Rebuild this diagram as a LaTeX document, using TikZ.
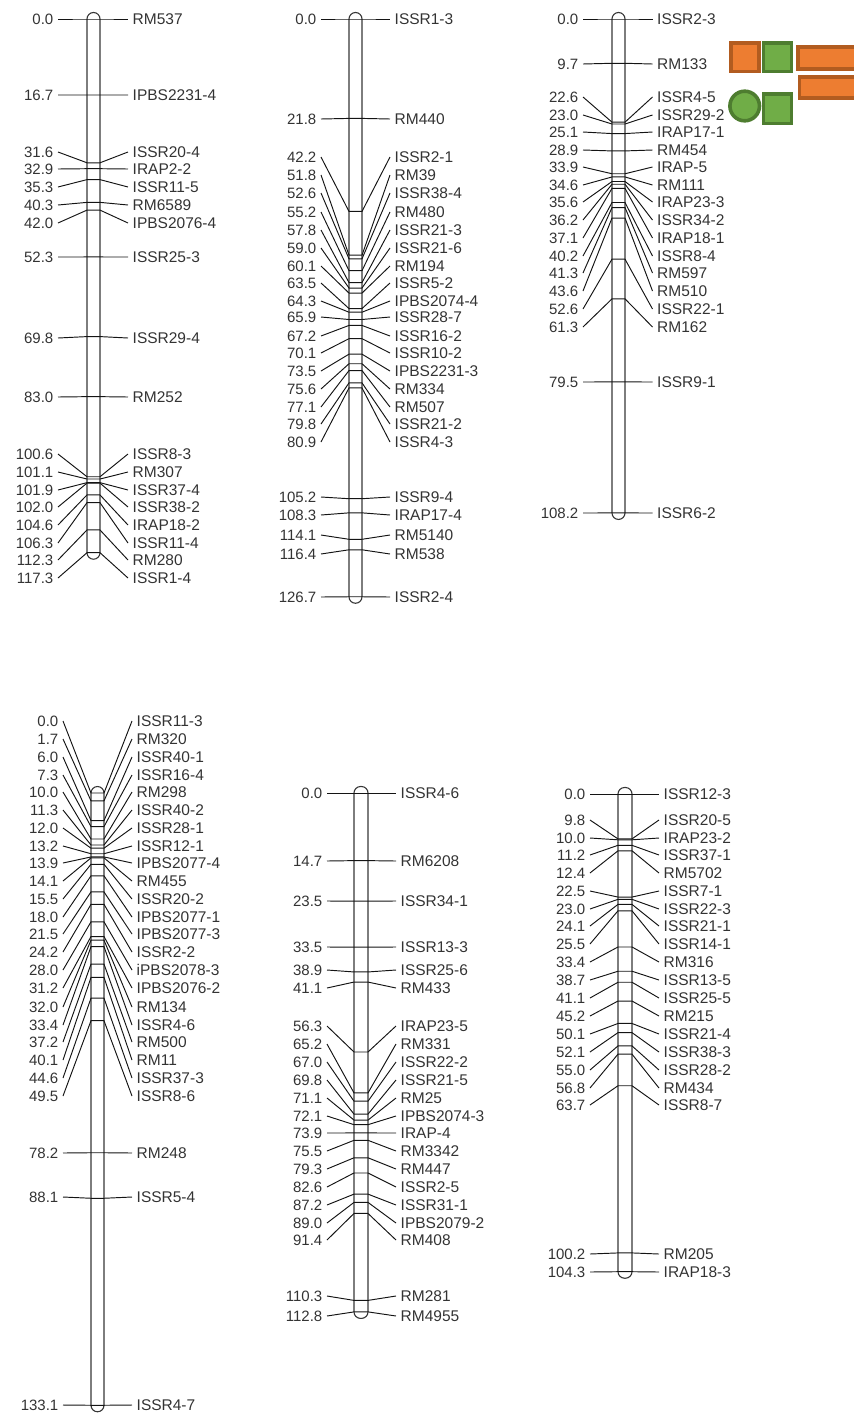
\documentclass[tikz,border=0pt]{standalone}
\usepackage{fontspec}
\setmainfont{Liberation Sans}
\definecolor{inktext}{HTML}{333333}
\definecolor{inkline}{HTML}{141414}
\definecolor{orfill}{HTML}{ED7D31}
\definecolor{ordraw}{HTML}{B25C20}
\definecolor{grfill}{HTML}{70AD47}
\definecolor{grdraw}{HTML}{4E7D30}
\tikzset{
  lab/.style={font=\fontsize{15}{17}\selectfont, text=inktext, text height=11, text depth=0, inner ysep=0, inner xsep=4.5},
  numlab/.style={lab, anchor=east},
  mklab/.style={lab, font=\fontsize{15.5}{17}\selectfont, anchor=west, inner xsep=4.5},
  link/.style={draw=inkline, line width=0.95},
  barbody/.style={draw=inkline!85!white, line width=1.1},
  orbox/.style={draw=ordraw, fill=orfill, line width=3.6, inner sep=0, minimum width=#1},
  grbox/.style={draw=grdraw, fill=grfill, line width=3.6, inner sep=0, minimum width=#1},
}
% id, bar left, bar right, line start, line end, y of 0, px per unit, last position, list
\newcommand\chromo[9]{%
  \pgfmathsetmacro\yend{#6+#7*#8}%
  \draw[barbody, rounded corners=6.5] (#2,#6-6.5) rectangle (#3,\yend+6.5);
  \foreach \mpos/\mly/\mname [count=\i] in {#9}{%
    \pgfmathsetmacro\mchr{#6+#7*\mpos}%
    \node[numlab] (#1n\i) at (#4,\mly) {\mpos};
    \node[mklab] (#1m\i) at (#5,\mly) {\mname};
    \coordinate (#1a\i) at (#2,\mchr);
    \coordinate (#1b\i) at (#3,\mchr);
    \draw[link] (#1n\i.east) -- (#1a\i) -- (#1b\i) -- (#1m\i.west);
  }%
}
\begin{document}
\begin{tikzpicture}[x=1pt,y=-1pt]
\useasboundingbox (0,0) rectangle (854,1414);
\clip (0,0) rectangle (854,1414);
\chromo{A}{87}{100}{58}{128}{19}{4.55}{117.3}{
0.0/19/RM537,16.7/95/IPBS2231-4,31.6/152/ISSR20-4,32.9/169/IRAP2-2,35.3/187/ISSR11-5,40.3/205/RM6589,42.0/223/IPBS2076-4,52.3/257/ISSR25-3,69.8/338/ISSR29-4,83.0/397/RM252,100.6/454/ISSR8-3,101.1/472/RM307,101.9/490/ISSR37-4,102.0/507/ISSR38-2,104.6/525/IRAP18-2,106.3/543/ISSR11-4,112.3/560/RM280,117.3/578/ISSR1-4}
\chromo{B}{349}{362}{321}{390}{19}{4.56}{126.7}{
0.0/19/ISSR1-3,21.8/119/RM440,42.2/157/ISSR2-1,51.8/175/RM39,52.6/193/ISSR38-4,55.2/212/RM480,57.8/230/ISSR21-3,59.0/248/ISSR21-6,60.1/266/RM194,63.5/283/ISSR5-2,64.3/301/IPBS2074-4,65.9/317/ISSR28-7,67.2/336/ISSR16-2,70.1/353/ISSR10-2,73.5/371/IPBS2231-3,75.6/389/RM334,77.1/407/RM507,79.8/424/ISSR21-2,80.9/442/ISSR4-3,105.2/497/ISSR9-4,108.3/515/IRAP17-4,114.1/535/RM5140,116.4/554/RM538,126.7/597/ISSR2-4}
\chromo{C}{612}{625}{583}{652.5}{19}{4.565}{108.2}{
0.0/19/ISSR2-3,9.7/64/RM133,22.6/97/ISSR4-5,23.0/115/ISSR29-2,25.1/132/IRAP17-1,28.9/150/RM454,33.9/167/IRAP-5,34.6/185/RM111,35.6/202/IRAP23-3,36.2/220/ISSR34-2,37.1/238/IRAP18-1,40.2/256/ISSR8-4,41.3/273/RM597,43.6/291/RM510,52.6/309/ISSR22-1,61.3/327/RM162,79.5/382/ISSR9-1,108.2/513/ISSR6-2}
\chromo{D}{91}{104}{63}{132}{793}{4.6}{133.1}{
0.0/721/ISSR11-3,1.7/739/RM320,6.0/757/ISSR40-1,7.3/775/ISSR16-4,10.0/792/RM298,11.3/810/ISSR40-2,12.0/828/ISSR28-1,13.2/846/ISSR12-1,13.9/863/IPBS2077-4,14.1/881/RM455,15.5/899/ISSR20-2,18.0/917/IPBS2077-1,21.5/934/IPBS2077-3,24.2/952/ISSR2-2,28.0/970/iPBS2078-3,31.2/988/IPBS2076-2,32.0/1007/RM134,33.4/1025/ISSR4-6,37.2/1042/RM500,40.1/1060/RM11,44.6/1078/ISSR37-3,49.5/1096/ISSR8-6,78.2/1153/RM248,88.1/1197/ISSR5-4,133.1/1405/ISSR4-7}
\chromo{E}{354}{368}{327}{396}{793}{4.6}{112.8}{
0.0/793/ISSR4-6,14.7/861/RM6208,23.5/901/ISSR34-1,33.5/947/ISSR13-3,38.9/970/ISSR25-6,41.1/988/RM433,56.3/1026/IRAP23-5,65.2/1044/RM331,67.0/1062/ISSR22-2,69.8/1080/ISSR21-5,71.1/1098/RM25,72.1/1116/IPBS2074-3,73.9/1133/IRAP-4,75.5/1151/RM3342,79.3/1169/RM447,82.6/1187/ISSR2-5,87.2/1205/ISSR31-1,89.0/1223/IPBS2079-2,91.4/1240/RM408,110.3/1296/RM281,112.8/1316/RM4955}
\chromo{F}{618}{632}{590}{659}{794}{4.58}{104.3}{
0.0/794/ISSR12-3,9.8/820/ISSR20-5,10.0/838/IRAP23-2,11.2/855/ISSR37-1,12.4/873/RM5702,22.5/891/ISSR7-1,23.0/909/ISSR22-3,24.1/926/ISSR21-1,25.5/944/ISSR14-1,33.4/962/RM316,38.7/980/ISSR13-5,41.1/998/ISSR25-5,45.2/1016/RM215,50.1/1034/ISSR21-4,52.1/1052/ISSR38-3,55.0/1070/ISSR28-2,56.8/1088/RM434,63.7/1105/ISSR8-7,100.2/1254/RM205,104.3/1272/IRAP18-3}
% coloured shapes
\node[orbox=28.1, minimum height=28.6] (s1) at (745,57) {};
\node[grbox=28.1, minimum height=28.6] (s2) at (777.5,57) {};
\node[orbox=72.4, minimum height=22.1] (s3) at (834,57.8) {};
\node[orbox=71, minimum height=21.4] (s4) at (834.8,87.5) {};
\node[grbox=30, shape=circle, minimum size=29.6] (s5) at (744.7,106) {};
\node[grbox=28.1, minimum height=29.6] (s6) at (777.5,108.5) {};
\end{tikzpicture}
\end{document}
